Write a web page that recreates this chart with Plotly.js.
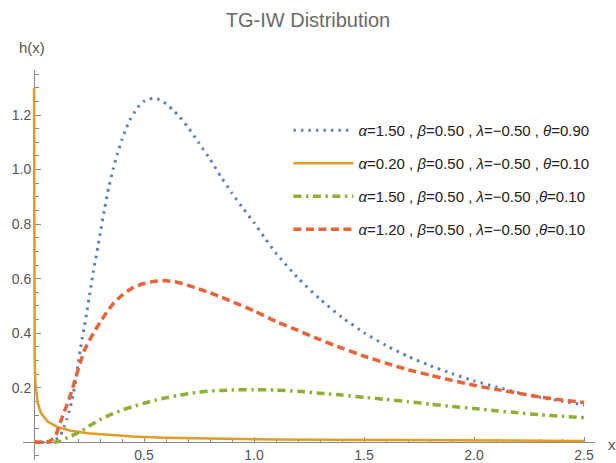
<!DOCTYPE html>
<html>
<head>
<meta charset="utf-8">
<script src="https://cdn.plot.ly/plotly-3.0.1.min.js"></script>
<style>html,body{margin:0;padding:0;background:#fff;}#chart{width:616px;height:463px;}</style>
</head>
<body>
<div id="chart"></div>
<script>
// ---- data ----
var blueX = [0, 0.05, 0.08, 0.09, 0.10, 0.11, 0.12, 0.13, 0.14, 0.15, 0.16, 0.17, 0.18, 0.19, 0.20, 0.21, 0.22, 0.23, 0.24, 0.25, 0.26, 0.27, 0.28, 0.29, 0.30, 0.32, 0.34, 0.36, 0.38, 0.40, 0.42, 0.44, 0.46, 0.48, 0.50, 0.52, 0.54, 0.56, 0.58, 0.60, 0.63, 0.66, 0.70, 0.75, 0.80, 0.85, 0.90, 0.95, 1.00, 1.05, 1.10, 1.20, 1.30, 1.40, 1.50, 1.60, 1.70, 1.80, 1.90, 2.00, 2.10, 2.20, 2.30, 2.40, 2.50];
var blueY = [0, 0, 0.001, 0.004, 0.010, 0.016, 0.026, 0.042, 0.062, 0.086, 0.113, 0.145, 0.184, 0.228, 0.285, 0.337, 0.385, 0.430, 0.476, 0.526, 0.577, 0.628, 0.671, 0.715, 0.762, 0.853, 0.936, 1.002, 1.060, 1.110, 1.153, 1.188, 1.214, 1.236, 1.250, 1.258, 1.261, 1.259, 1.252, 1.241, 1.220, 1.195, 1.155, 1.097, 1.038, 0.973, 0.913, 0.858, 0.805, 0.748, 0.693, 0.602, 0.525, 0.458, 0.402, 0.355, 0.315, 0.281, 0.252, 0.225, 0.203, 0.182, 0.165, 0.150, 0.137];

var orangeX = [0.0003, 0.0008, 0.0015, 0.003, 0.006, 0.009, 0.017, 0.032, 0.062, 0.108, 0.168, 0.244, 0.365, 0.45, 0.586, 0.75, 0.90, 1.10, 1.30, 1.50, 1.75, 2.00, 2.25, 2.50];
var orangeY = [1.30, 0.75, 0.45, 0.30, 0.22, 0.19, 0.143, 0.107, 0.076, 0.055, 0.042, 0.033, 0.026, 0.021, 0.017, 0.014, 0.012, 0.010, 0.009, 0.008, 0.007, 0.006, 0.0055, 0.005];

var greenX = [0, 0.07, 0.10, 0.12, 0.145, 0.18, 0.22, 0.26, 0.30, 0.35, 0.40, 0.45, 0.50, 0.55, 0.60, 0.65, 0.70, 0.75, 0.80, 0.85, 0.90, 1.00, 1.10, 1.20, 1.30, 1.40, 1.50, 1.60, 1.70, 1.80, 1.90, 2.00, 2.10, 2.20, 2.30, 2.40, 2.50];
var greenY = [0, 0, 0.001, 0.004, 0.014, 0.027, 0.044, 0.064, 0.083, 0.102, 0.118, 0.131, 0.143, 0.154, 0.163, 0.171, 0.178, 0.184, 0.188, 0.190, 0.192, 0.193, 0.191, 0.187, 0.180, 0.173, 0.165, 0.157, 0.149, 0.140, 0.131, 0.124, 0.116, 0.108, 0.101, 0.095, 0.090];

var redX = [0, 0.05, 0.07, 0.085, 0.10, 0.115, 0.13, 0.15, 0.17, 0.19, 0.21, 0.23, 0.26, 0.28, 0.30, 0.33, 0.36, 0.40, 0.45, 0.50, 0.55, 0.60, 0.65, 0.70, 0.75, 0.80, 0.85, 0.90, 1.00, 1.10, 1.20, 1.30, 1.40, 1.50, 1.60, 1.70, 1.80, 1.90, 2.00, 2.10, 2.20, 2.30, 2.40, 2.50];
var redY = [0, 0, 0.003, 0.012, 0.027, 0.062, 0.096, 0.138, 0.184, 0.238, 0.290, 0.339, 0.385, 0.413, 0.439, 0.476, 0.508, 0.539, 0.567, 0.582, 0.590, 0.592, 0.587, 0.575, 0.562, 0.548, 0.533, 0.516, 0.482, 0.443, 0.410, 0.376, 0.345, 0.316, 0.290, 0.266, 0.246, 0.227, 0.209, 0.194, 0.180, 0.166, 0.155, 0.146];

var seriesNames = [
  '<i>α</i>=1.50 , <i>β</i>=0.50 , <i>λ</i>=−0.50 , <i>θ</i>=0.90',
  '<i>α</i>=0.20 , <i>β</i>=0.50 , <i>λ</i>=−0.50 , <i>θ</i>=0.10',
  '<i>α</i>=1.50 , <i>β</i>=0.50 , <i>λ</i>=−0.50 ,<i>θ</i>=0.10',
  '<i>α</i>=1.20 , <i>β</i>=0.50 , <i>λ</i>=−0.50 ,<i>θ</i>=0.10'
];
var xTickVals = [0.5, 1.0, 1.5, 2.0, 2.5];
var xTickText = ['0.5', '1.0', '1.5', '2.0', '2.5'];
var yTickVals = [0.2, 0.4, 0.6, 0.8, 1.0, 1.2];
var yTickText = ['0.2', '0.4', '0.6', '0.8', '1.0', '1.2'];

// ---- chart ----
var xRange = [-0.05, 2.55];
var yRange = [-0.065, 1.365];
var axisGray = '#8a8a8a';
var tickFont = {family: 'Liberation Sans, Arial, sans-serif', size: 14, color: '#555'};

var traces = [
  {x: blueX, y: blueY, name: seriesNames[0], legendgroup: 'a', mode: 'lines',
   line: {color: '#5E81B5', width: 3, dash: '2.5px,5px', shape: 'spline', smoothing: 0.6}},
  {x: orangeX, y: orangeY, name: seriesNames[1], legendgroup: 'b', mode: 'lines',
   line: {color: '#E19C24', width: 2.5}},
  {x: greenX, y: greenY, name: seriesNames[2], legendgroup: 'c', mode: 'lines',
   line: {color: '#8FB032', width: 3.5, dash: '8px,4.5px,2.5px,4.5px', shape: 'spline', smoothing: 0.6}},
  {x: redX, y: redY, name: seriesNames[3], legendgroup: 'd', mode: 'lines',
   line: {color: '#EB6235', width: 3.5, dash: '8px,4.5px', shape: 'spline', smoothing: 0.6}}
];

var layout = {
  width: 616, height: 463, autosize: false,
  margin: {l: 23, r: 21, t: 70, b: 3, pad: 0},
  paper_bgcolor: '#fff', plot_bgcolor: '#fff',
  font: {family: 'Liberation Sans, Arial, sans-serif'},
  title: {text: 'TG-IW Distribution', font: {size: 20, color: '#6a6a6a'},
          x: 0.5, xref: 'container', xanchor: 'center', y: 1 - 20 / 463, yref: 'container', yanchor: 'middle'},
  xaxis: {
    range: xRange, domain: [0, 1], anchor: 'free', layer: 'below traces',
    position: (0 - yRange[0]) / (yRange[1] - yRange[0]),
    showline: true, linecolor: axisGray, linewidth: 1,
    ticks: 'inside', ticklen: 5, tickwidth: 1, tickcolor: axisGray,
    tickmode: 'array', tickvals: xTickVals, ticktext: xTickText,
    minor: {ticks: 'inside', ticklen: 3, tickwidth: 1, tickcolor: axisGray, tickmode: 'linear', tick0: 0, dtick: 0.1, showgrid: false},
    showgrid: false, zeroline: false, tickfont: tickFont
  },
  yaxis: {
    range: yRange, domain: [0, 1], anchor: 'free', layer: 'below traces',
    position: (0 - xRange[0]) / (xRange[1] - xRange[0]),
    showline: true, linecolor: axisGray, linewidth: 1,
    ticks: 'inside', ticklen: 6, tickwidth: 1, tickcolor: axisGray,
    tickmode: 'array', tickvals: yTickVals, ticktext: yTickText,
    minor: {ticks: 'inside', ticklen: 3.5, tickwidth: 1, tickcolor: axisGray, tickmode: 'linear', tick0: 0, dtick: 0.05, showgrid: false},
    showgrid: false, zeroline: false, tickfont: tickFont
  },
  showlegend: true,
  legend: {
    x: 0.464, y: 0.887, xanchor: 'left', yanchor: 'top',
    bgcolor: 'rgba(0,0,0,0)', borderwidth: 0,
    font: {family: 'Liberation Sans, Arial, sans-serif', size: 15, color: '#222'},
    itemwidth: 60, tracegroupgap: 10.5, traceorder: 'grouped'
  },
  annotations: [
    {text: 'h(x)', xref: 'paper', yref: 'paper', x: (32 - 23) / 572, y: (460 - 48) / 390,
     xanchor: 'center', yanchor: 'middle', showarrow: false, font: {size: 15, color: '#555'}},
    {text: 'x', xref: 'paper', yref: 'paper', x: (612 - 23) / 572, y: (460 - 444) / 390,
     xanchor: 'center', yanchor: 'middle', showarrow: false, font: {size: 15, color: '#555'}}
  ]
};

Plotly.newPlot('chart', traces, layout, {displayModeBar: false, staticPlot: true});
</script>
</body>
</html>
